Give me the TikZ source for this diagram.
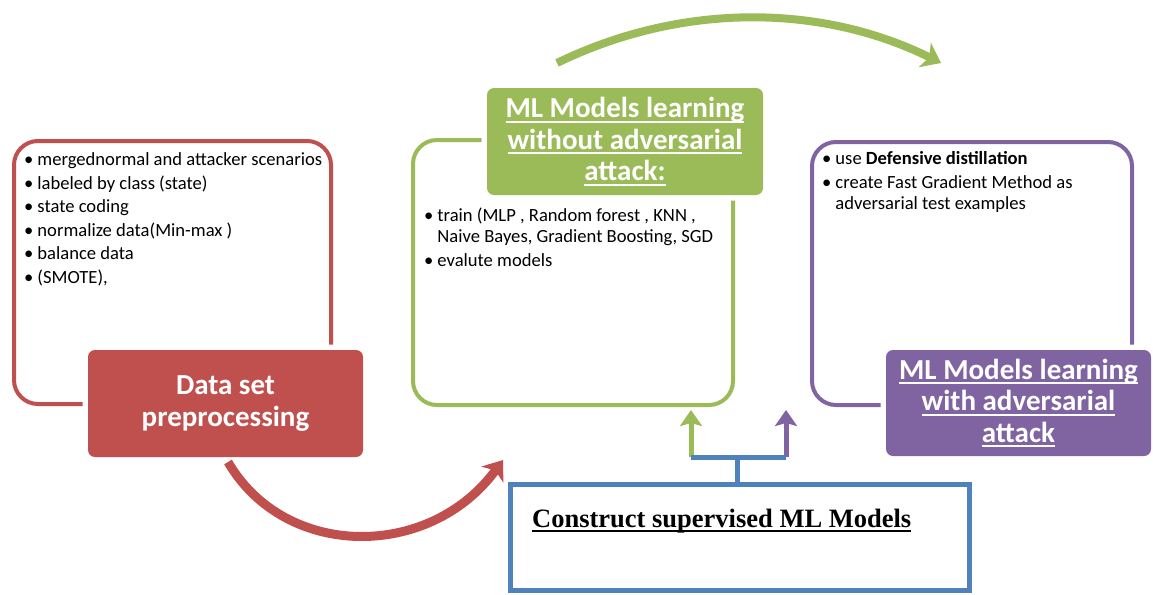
\documentclass[tikz,border=0pt]{standalone}
\usepackage{fontspec}
\setmainfont{Carlito}
\newfontfamily\consfont{Liberation Serif}
\usetikzlibrary{arrows.meta}
\definecolor{prepred}{HTML}{C0504D}
\definecolor{learngreen}{HTML}{9BBB59}
\definecolor{advpurple}{HTML}{8064A2}
\definecolor{consblue}{HTML}{4F81BD}
\newcommand\uln[1]{\setbox0\hbox{#1}\rlap{\rule[-0.17em]{\wd0}{0.07em}}\box0}
\begin{document}
\begin{tikzpicture}[x=1pt,y=-1pt,
    frame/.style={line width=4pt, rounded corners=24pt, inner sep=0pt},
    head/.style={rounded corners=7pt, text=white, align=center, inner sep=0pt,
      font=\fontsize{29}{31.5}\selectfont\bfseries,
      preaction={draw=white, line width=11pt}},
    items/.style={anchor=north west, inner sep=0pt, align=left,
      font=\fontsize{18.6}{21}\selectfont},
    bigarrow/.style={line width=9pt, -{Stealth[length=18pt,width=27pt,inset=5pt]}},
    smallarrow/.style={line width=5pt, -{Stealth[length=16pt,width=22pt,inset=3pt]}}]
  \useasboundingbox (0,0) rectangle (1153,594);

  % data set preprocessing
  \node[frame, draw=prepred, minimum width=317pt, minimum height=263pt] (prepframe) at (172.5,272.5) {};
  \node[head, fill=prepred, minimum width=275pt, minimum height=107pt] (prephead) at (225.5,403.5)
    {Data set\\preprocessing};
  \node[items] (prepitems) at (24,151) {%
    \begin{tabular}{@{}l@{\hspace{4pt}}l@{}}
      \textbullet & mergednormal and attacker scenarios\\[2.5pt]
      \textbullet & labeled by class (state)\\[2.5pt]
      \textbullet & state coding\\[2.5pt]
      \textbullet & normalize data(Min-max )\\[2.5pt]
      \textbullet & balance data\\[2.5pt]
      \textbullet & (SMOTE),
    \end{tabular}};

  % learning without attack
  \node[frame, draw=learngreen, minimum width=320pt, minimum height=265pt] (learnframe) at (573,272.5) {};
  \node[head, fill=learngreen, minimum width=276pt, minimum height=107pt] (learnhead) at (625,141.5)
    {\uln{ML Models learning}\\\uln{without adversarial}\\\uln{attack:}};
  \node[items] (learnitems) at (424,207) {%
    \begin{tabular}{@{}l@{\hspace{4pt}}l@{}}
      \textbullet & train (MLP , Random forest , KNN ,\\
                  & Naive Bayes, Gradient Boosting, SGD\\[3pt]
      \textbullet & evalute models
    \end{tabular}};

  % learning with attack
  \node[frame, draw=advpurple, minimum width=320pt, minimum height=263pt] (advframe) at (972,273.5) {};
  \node[head, fill=advpurple, minimum width=265pt, minimum height=106pt] (advhead) at (1018.5,403)
    {\uln{ML Models learning}\\\uln{with adversarial}\\\uln{attack}};
  \node[items] (advitems) at (822,150) {%
    \begin{tabular}{@{}l@{\hspace{4pt}}l@{}}
      \textbullet & use \textbf{Defensive distillation}\\[3pt]
      \textbullet & create Fast Gradient Method as\\
                  & adversarial test examples
    \end{tabular}};

  % supervised models
  \node[draw=consblue, line width=5pt, minimum width=459pt, minimum height=106pt] (cons) at (739.5,537) {};
  \node[anchor=base west, inner sep=0pt, font=\consfont\fontsize{26.5}{30}\selectfont\bfseries] (constitle)
    at (532,527) {\uln{Construct supervised ML Models}};

  \coordinate (fork) at (737,457);
  \coordinate (gfoot) at (691,457);
  \coordinate (pfoot) at (786,457);
  \coordinate (gtip) at (691,410);
  \coordinate (ptip) at (786,410);
  \draw[smallarrow, learngreen] (gfoot) -- (gtip);
  \draw[smallarrow, advpurple] (pfoot) -- (ptip);
  \draw[consblue, line width=5pt] (gfoot) -- (pfoot);
  \draw[consblue, line width=5pt] (cons.north -| fork) -- (fork);

  % big arcs
  \coordinate (prepout) at (228,462);
  \coordinate (consin) at (503,460);
  \draw[bigarrow, prepred] (prepout) .. controls (285,560) and (430,560) .. (consin);
  \coordinate (learnout) at (557,63);
  \coordinate (advin) at (941,63);
  \draw[bigarrow, learngreen, line width=8pt] (learnout) .. controls (680,3) and (820,3) .. (advin);
\end{tikzpicture}
\end{document}
